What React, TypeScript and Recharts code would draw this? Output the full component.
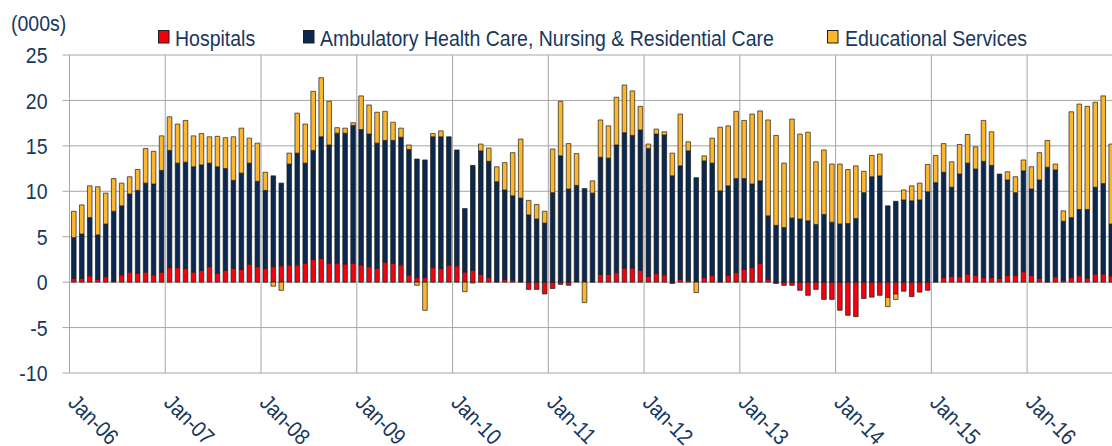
import { Bar, BarChart, CartesianGrid, XAxis, YAxis } from "recharts";

// monthly change, thousands of jobs, Jan-06 .. Nov-16
const HOSPITALS = [
  0.4, 0.4, 0.7, 0.3, 0.6, 0.1, 0.8, 1.1, 1.0, 1.1, 0.8, 1.1,
  1.6, 1.6, 1.5, 1.1, 1.3, 1.7, 1.0, 1.3, 1.5, 1.4, 2.0, 1.7,
  1.5, 1.7, 1.8, 1.9, 1.9, 2.1, 2.5, 2.6, 2.1, 2.1, 2.0, 2.1,
  1.9, 1.7, 1.5, 2.2, 2.1, 1.9, 0.8, 0.5, 0.5, 1.6, 1.5, 1.9,
  1.8, 1.1, 1.3, 0.85, 0.5, 0.05, 0.3, 0.2, 0.05, -0.8, -0.8, -1.3,
  -0.7, -0.25, -0.35, 0, 0, 0.05, 0.85, 0.85, 1.05, 1.55, 1.55, 1.3,
  0.65, 0.95, 0.8, -0.15, 0.3, 0.2, 0, 0.5, 0.75, 0.05, 0.75, 1.05,
  1.4, 1.6, 2.05, 0.35, -0.15, -0.35, -0.35, -0.9, -1.45, -0.8, -1.9, -1.9,
  -3.1, -3.65, -3.8, -1.8, -1.65, -1.45, -1.7, -1.3, -1.0, -1.6, -1.1, -0.9,
  0.05, 0.5, 0.65, 0.6, 0.9, 0.75, 0.5, 0.5, 0.4, 0.75, 0.75, 1.15,
  0.75, 0.4, 0.05, 0.6, 0.2, 0.5, 0.7, 0.45, 0.9, 0.9, 0.7,
];

const AMBULATORY = [
  4.5, 4.9, 6.4, 4.9, 5.8, 7.7, 7.6, 8.6, 9.1, 9.8, 10.0, 11.2,
  12.9, 11.5, 11.7, 11.6, 11.6, 11.4, 11.7, 11.2, 9.7, 10.6, 11.1, 9.4,
  8.6, 10.0, 9.1, 11.1, 12.3, 11.0, 12.0, 13.4, 13.0, 14.3, 14.4, 15.15,
  14.9, 14.6, 13.8, 13.4, 13.5, 14.05, 13.8, 13.05, 12.95, 14.4, 14.5, 14.1,
  12.75, 7.0, 11.55, 13.6, 12.8, 11.0, 9.85, 9.3, 9.2, 7.4, 6.95, 6.5,
  9.85, 13.9, 10.25, 10.65, 10.3, 9.75, 12.9, 12.8, 14.05, 14.9, 14.6, 15.45,
  14.05, 15.35, 15.4, 11.7, 12.5, 14.25, 11.5, 12.85, 12.35, 10.0, 9.85, 10.35,
  10.0, 9.2, 9.1, 6.95, 6.25, 6.0, 7.05, 6.95, 6.75, 6.35, 7.45, 6.6,
  6.4, 6.45, 7.0, 9.85, 11.6, 11.7, 8.4, 8.9, 9.05, 8.95, 9.05, 9.95,
  10.9, 11.6, 9.8, 11.3, 12.2, 11.7, 12.8, 12.35, 11.5, 10.5, 9.1, 11.1,
  9.5, 10.85, 12.6, 11.75, 6.5, 6.6, 7.3, 7.55, 9.55, 9.95, 5.7,
];

const EDUCATION = [
  2.9, 3.2, 3.5, 5.3, 3.4, 3.6, 2.5, 1.9, 2.3, 3.8, 3.6, 3.8,
  3.7, 4.3, 4.6, 3.4, 3.45, 2.9, 3.35, 3.4, 4.8, 4.95, 2.75, 4.2,
  2.0, -0.45, -0.9, 1.2, 4.4, 4.3, 6.5, 6.5, 4.8, 0.6, 0.55, 0.3,
  3.7, 3.2, 3.4, 3.2, 2.0, 1.0, 0.5, -0.35, -3.1, 0.35, 0.65, 0,
  0, -1.05, -0.1, 0.75, 1.45, 1.65, 3.0, 4.75, 6.5, 1.6, 1.6, 1.3,
  4.8, 6.0, 5.0, 3.5, -2.25, 1.35, 4.1, 3.55, 5.25, 5.25, 4.9, 2.6,
  0.5, 0.55, 0.35, 2.5, 5.7, 1.0, -1.15, 0.55, 2.75, 7.0, 6.6, 7.4,
  6.4, 7.7, 7.7, 10.55, 9.9, 7.1, 10.9, 9.35, 9.75, 6.9, 7.1, 6.4,
  6.6, 5.95, 5.8, 2.35, 2.35, 2.4, -1.0, -0.6, 1.1, 1.65, 1.85, 3.0,
  3.0, 3.15, 2.8, 3.25, 3.15, 2.45, 4.5, 3.7, 0, 0.9, 1.75, 1.2,
  2.45, 3.0, 2.95, 0.65, 1.15, 11.65, 11.6, 11.35, 9.35, 9.65, 8.8,
];

const MONTH_NAMES = ["Jan", "Feb", "Mar", "Apr", "May", "Jun", "Jul", "Aug", "Sep", "Oct", "Nov", "Dec"];
const YEARS = ["06", "07", "08", "09", "10", "11", "12", "13", "14", "15", "16"];
const Y_TICKS = [-10, -5, 0, 5, 10, 15, 20, 25];

const MONTHS = HOSPITALS.map((_, i) => `${MONTH_NAMES[i % 12]}-${YEARS[Math.floor(i / 12)]}`);
const YEAR_TICKS = YEARS.map((_, k) => k * 12);

const data = MONTHS.map((month, i) => ({
  month,
  idx: i + 0.5,
  hospitals: HOSPITALS[i],
  ambulatory: AMBULATORY[i],
  education: EDUCATION[i],
}));

const TEXT = "#17375E";
const GRID = "#A6A6A6";
const FONT = "'Liberation Sans', Arial, sans-serif";
const FS = 19.5;
const STRETCH = 1.15;

const SERIES = [
  { key: "hospitals", name: "Hospitals", color: "#F5000F" },
  { key: "ambulatory", name: "Ambulatory Health Care, Nursing & Residential Care", color: "#0B2850" },
  { key: "education", name: "Educational Services", color: "#FCB62E" },
];

const LEGEND_POS = [
  { box: 158, text: 175 },
  { box: 303, text: 320 },
  { box: 827, text: 845 },
];

function YTick({ x, y, payload }: any) {
  return (
    <g transform={`translate(${x},${y})`}>
      <text transform={`scale(1,${STRETCH})`} dy="0.36em" textAnchor="end" fill={TEXT} fontSize={FS} fontFamily={FONT}>
        {payload.value}
      </text>
    </g>
  );
}

function XTick({ x, y, payload }: any) {
  return (
    <g transform={`translate(${x - 2.5},${y + 1}) rotate(45)`}>
      <text transform={`scale(1,${STRETCH})`} textAnchor="start" fill={TEXT} fontSize={FS} fontFamily={FONT}>
        {MONTHS[payload.value]}
      </text>
    </g>
  );
}

export default function App() {
  return (
    <div style={{ position: "fixed", left: 0, top: 0, width: 1112, height: 446, overflow: "hidden", background: "#fff" }}>
      <BarChart
        width={1120}
        height={446}
        data={data}
        stackOffset="sign"
        barSize={4.6}
        margin={{ top: 55, right: 5.1, bottom: 0, left: 0 }}
      >
        <CartesianGrid stroke={GRID} xAxisId="time" />
        <XAxis xAxisId="cat" dataKey="month" hide />
        <XAxis
          xAxisId="time"
          dataKey="idx"
          type="number"
          domain={[0, 131]}
          allowDataOverflow
          ticks={YEAR_TICKS}
          interval={0}
          tick={<XTick />}
          tickLine={false}
          axisLine={false}
          tickSize={0}
          tickMargin={0}
          height={73}
        />
        <YAxis
          domain={[-10, 25]}
          ticks={Y_TICKS}
          interval={0}
          width={69.5}
          axisLine={false}
          tickLine={{ stroke: GRID }}
          tickSize={7}
          tickMargin={15}
          tick={<YTick />}
        />
        {SERIES.map((s) => (
          <Bar
            key={s.key}
            xAxisId="cat"
            dataKey={s.key}
            name={s.name}
            stackId="a"
            fill={s.color}
            stroke="#1E1E1E"
            strokeWidth={0.7}
            isAnimationActive={false}
          />
        ))}
      </BarChart>
      <svg width={1112} height={60} style={{ position: "absolute", left: 0, top: 0, pointerEvents: "none" }}>
        <g transform={`translate(11,31) scale(1,${STRETCH})`}>
          <text fill={TEXT} fontSize={FS} fontFamily={FONT}>(000s)</text>
        </g>
        {SERIES.map((s, i) => (
          <g key={s.key}>
            <rect x={LEGEND_POS[i].box + 0.5} y={30.5} width={10.5} height={12.5} fill={s.color} stroke="#1E1E1E" strokeWidth={1} />
            <g transform={`translate(${LEGEND_POS[i].text},46) scale(1,${STRETCH})`}>
              <text fill={TEXT} fontSize={FS} fontFamily={FONT}>{s.name}</text>
            </g>
          </g>
        ))}
      </svg>
    </div>
  );
}
